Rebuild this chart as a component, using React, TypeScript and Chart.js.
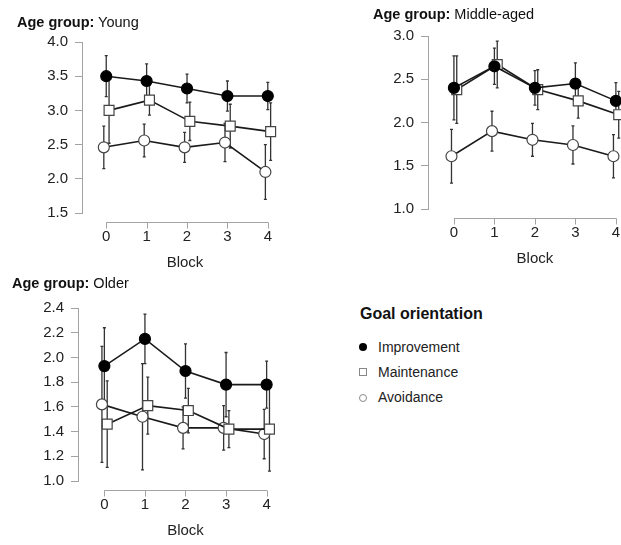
import React, { useEffect, useRef } from "react";
import { Chart, registerables } from "chart.js";

Chart.register(...registerables);

const FONT = "'Liberation Sans', Arial, Helvetica, sans-serif";
Chart.defaults.font.family = FONT;

// ---------- data ----------
const blocks = [0, 1, 2, 3, 4];
const seriesNames = ["Improvement", "Maintenance", "Avoidance"];

const youngImprovement = [3.5, 3.43, 3.32, 3.21, 3.21];
const youngImprovementErr = [0.3, 0.25, 0.21, 0.22, 0.2];
const youngMaintenance = [3.0, 3.15, 2.84, 2.77, 2.69];
const youngMaintenanceErr = [0.48, 0.22, 0.28, 0.32, 0.42];
const youngAvoidance = [2.46, 2.56, 2.46, 2.53, 2.1];
const youngAvoidanceErr = [0.31, 0.24, 0.22, 0.28, 0.4];

const middleImprovement = [2.4, 2.65, 2.4, 2.45, 2.25];
const middleImprovementErr = [0.37, 0.21, 0.2, 0.24, 0.21];
const middleMaintenance = [2.38, 2.67, 2.38, 2.25, 2.09];
const middleMaintenanceErr = [0.39, 0.27, 0.23, 0.2, 0.27];
const middleAvoidance = [1.61, 1.9, 1.8, 1.74, 1.61];
const middleAvoidanceErr = [0.31, 0.23, 0.19, 0.22, 0.25];

const olderImprovement = [1.93, 2.15, 1.89, 1.78, 1.78];
const olderImprovementErr = [0.31, 0.2, 0.22, 0.26, 0.19];
const olderMaintenance = [1.46, 1.61, 1.57, 1.42, 1.42];
const olderMaintenanceErr = [0.35, 0.23, 0.18, 0.15, 0.34];
const olderAvoidance = [1.62, 1.52, 1.43, 1.43, 1.38];
const olderAvoidanceErr = [0.47, 0.43, 0.17, 0.18, 0.2];

const youngTicks = [1.5, 2.0, 2.5, 3.0, 3.5, 4.0];
const middleTicks = [1.0, 1.5, 2.0, 2.5, 3.0];
const olderTicks = [1.0, 1.2, 1.4, 1.6, 1.8, 2.0, 2.2, 2.4];

// ---------- styles ----------
const AXIS = "#a3a3a3";
const LINE = "#1a1a1a";
const ERR = "#333333";
const TEXT = "#222222";
const DODGE = [0, 0.07, -0.06];
const MARKERS = [
  { shape: "circle", r: 5.5, fill: "#000000", stroke: "#000000" },
  { shape: "rect", r: 7, fill: "#ffffff", stroke: "#444444" },
  { shape: "circle", r: 5.5, fill: "#ffffff", stroke: "#444444" },
];

type PanelCfg = {
  group: string;
  titlePos: { left: number; top: number };
  canvas: { left: number; top: number; w: number; h: number };
  area: { left: number; top: number; right: number; bottom: number };
  xMin: number;
  xMax: number;
  yTicks: number[];
  titlePad: number;
  means: number[][];
  errs: number[][];
};

const panels: PanelCfg[] = [
  {
    group: "Young",
    titlePos: { left: 17, top: 14.7 },
    canvas: { left: 0, top: 0, w: 300, h: 275 },
    area: { left: 82, top: 42, right: 288, bottom: 213 },
    xMin: -0.6,
    xMax: 4.5,
    yTicks: youngTicks,
    titlePad: 3,
    means: [youngImprovement, youngMaintenance, youngAvoidance],
    errs: [youngImprovementErr, youngMaintenanceErr, youngAvoidanceErr],
  },
  {
    group: "Middle-aged",
    titlePos: { left: 373, top: 6.7 },
    canvas: { left: 340, top: 0, w: 310, h: 271 },
    area: { left: 428, top: 36, right: 642, bottom: 209 },
    xMin: -0.64,
    xMax: 4.64,
    yTicks: middleTicks,
    titlePad: 3,
    means: [middleImprovement, middleMaintenance, middleAvoidance],
    errs: [middleImprovementErr, middleMaintenanceErr, middleAvoidanceErr],
  },
  {
    group: "Older",
    titlePos: { left: 12, top: 275.7 },
    canvas: { left: 0, top: 290, w: 310, h: 255 },
    area: { left: 78, top: 308, right: 293, bottom: 481 },
    xMin: -0.65,
    xMax: 4.65,
    yTicks: olderTicks,
    titlePad: 5,
    means: [olderImprovement, olderMaintenance, olderAvoidance],
    errs: [olderImprovementErr, olderMaintenanceErr, olderAvoidanceErr],
  },
];

// ---------- plugins ----------
const errorBarPlugin = {
  id: "errorBars",
  beforeDatasetsDraw(chart: any) {
    const { ctx } = chart;
    const x = chart.scales.x;
    const y = chart.scales.y;
    ctx.save();
    ctx.strokeStyle = ERR;
    ctx.lineWidth = 1.3;
    chart.data.datasets.forEach((ds: any) => {
      ds.data.forEach((p: any, j: number) => {
        const e = ds.errors[j];
        const px = x.getPixelForValue(p.x);
        const top = y.getPixelForValue(p.y + e);
        const bot = y.getPixelForValue(p.y - e);
        ctx.beginPath();
        ctx.moveTo(px, top);
        ctx.lineTo(px, bot);
        ctx.moveTo(px - 1.5, top);
        ctx.lineTo(px + 1.5, top);
        ctx.moveTo(px - 1.5, bot);
        ctx.lineTo(px + 1.5, bot);
        ctx.stroke();
      });
    });
    ctx.restore();
  },
};

const blockAxisPlugin = {
  id: "blockAxis",
  afterDraw(chart: any) {
    const { ctx, chartArea } = chart;
    const x = chart.scales.x;
    const yLine = Math.round(chartArea.bottom + 9) + 0.5;
    const x0 = x.getPixelForValue(blocks[0]);
    const x1 = x.getPixelForValue(blocks[blocks.length - 1]);
    ctx.save();
    ctx.strokeStyle = AXIS;
    ctx.lineWidth = 1;
    ctx.beginPath();
    ctx.moveTo(x0, yLine);
    ctx.lineTo(x1 + 0.5, yLine);
    blocks.forEach((b) => {
      const px = Math.round(x.getPixelForValue(b)) + 0.5;
      ctx.moveTo(px, yLine);
      ctx.lineTo(px, yLine + 6);
    });
    ctx.stroke();
    ctx.restore();
  },
};

function Panel({ cfg }: { cfg: PanelCfg }) {
  const ref = useRef<HTMLCanvasElement>(null);
  const c = cfg.canvas;
  const a = cfg.area;
  useEffect(() => {
    if (!ref.current) return;
    const datasets = cfg.means.map((mean, i) => ({
      label: seriesNames[i],
      data: blocks.map((b, j) => ({ x: b + DODGE[i], y: mean[j] })),
      errors: cfg.errs[i],
      borderColor: LINE,
      borderWidth: 1.6,
      pointStyle: MARKERS[i].shape,
      pointRadius: MARKERS[i].r,
      pointBackgroundColor: MARKERS[i].fill,
      pointBorderColor: MARKERS[i].stroke,
      pointBorderWidth: 1.2,
      clip: false,
      tension: 0,
    }));
    const ticks = cfg.yTicks;
    const chart = new Chart(ref.current, {
      type: "line",
      data: { datasets } as any,
      options: {
        animation: false,
        responsive: false,
        devicePixelRatio: 1,
        layout: {
          padding: {
            left: 0,
            top: a.top - c.top,
            right: c.left + c.w - a.right,
            bottom: 0,
          },
        },
        plugins: {
          legend: { display: false },
          tooltip: { enabled: false },
        },
        scales: {
          x: {
            type: "linear",
            min: cfg.xMin,
            max: cfg.xMax,
            afterBuildTicks: (ax: any) => {
              ax.ticks = blocks.map((v) => ({ value: v }));
            },
            afterFit: (ax: any) => {
              ax.height = c.top + c.h - a.bottom;
            },
            grid: { display: false, drawTicks: false },
            border: { display: false },
            ticks: {
              padding: 15,
              color: TEXT,
              font: { size: 15 },
              maxRotation: 0,
              autoSkip: false,
            },
            title: {
              display: true,
              text: "Block",
              color: TEXT,
              font: { size: 15 },
              padding: { top: 0, bottom: cfg.titlePad },
            },
          },
          y: {
            type: "linear",
            min: ticks[0],
            max: ticks[ticks.length - 1],
            afterBuildTicks: (ax: any) => {
              ax.ticks = ticks.map((v) => ({ value: v }));
            },
            afterFit: (ax: any) => {
              ax.width = a.left - c.left;
            },
            grid: {
              display: true,
              drawOnChartArea: false,
              drawTicks: true,
              tickLength: 7,
              color: AXIS,
            },
            border: { display: true, color: AXIS, width: 1 },
            ticks: {
              padding: 7,
              color: TEXT,
              font: { size: 15 },
              autoSkip: false,
              callback: (v: any) => Number(v).toFixed(1),
            },
          },
        },
      } as any,
      plugins: [errorBarPlugin, blockAxisPlugin],
    });
    return () => chart.destroy();
  }, []);
  return (
    <>
      <canvas
        ref={ref}
        width={c.w}
        height={c.h}
        style={{ position: "absolute", left: c.left, top: c.top, width: c.w, height: c.h }}
      />
      <div
        style={{
          position: "absolute",
          left: cfg.titlePos.left,
          top: cfg.titlePos.top,
          fontSize: 14.5,
          lineHeight: "14.5px",
          whiteSpace: "nowrap",
          color: "#111",
        }}
      >
        <b>Age group:</b> {cfg.group}
      </div>
    </>
  );
}

const legendMarkers = [
  { borderRadius: "50%", background: "#000", border: "none" },
  { borderRadius: 0, background: "#fff", border: "1px solid #888" },
  { borderRadius: "50%", background: "#fff", border: "1px solid #888" },
];

function Legend() {
  return (
    <>
      <div
        style={{
          position: "absolute",
          left: 360,
          top: 305.5,
          fontSize: 16,
          lineHeight: "16px",
          fontWeight: "bold",
          color: "#111",
          whiteSpace: "nowrap",
        }}
      >
        Goal orientation
      </div>
      {seriesNames.map((name, i) => (
        <React.Fragment key={name}>
          <div
            style={{
              position: "absolute",
              left: 363.3 - 4,
              top: 346.7 + i * 25.6 - 4,
              boxSizing: "border-box",
              width: 8,
              height: 8,
              ...legendMarkers[i],
            }}
          />
          <div
            style={{
              position: "absolute",
              left: 378,
              top: 340 + i * 25.2,
              fontSize: 14,
              lineHeight: "14px",
              color: TEXT,
              whiteSpace: "nowrap",
            }}
          >
            {name}
          </div>
        </React.Fragment>
      ))}
    </>
  );
}

export default function App() {
  return (
    <div
      style={{
        position: "absolute",
        left: 0,
        top: 0,
        width: 621,
        height: 545,
        overflow: "hidden",
        background: "#fff",
        fontFamily: FONT,
      }}
    >
      {panels.map((p) => (
        <Panel key={p.group} cfg={p} />
      ))}
      <Legend />
    </div>
  );
}
